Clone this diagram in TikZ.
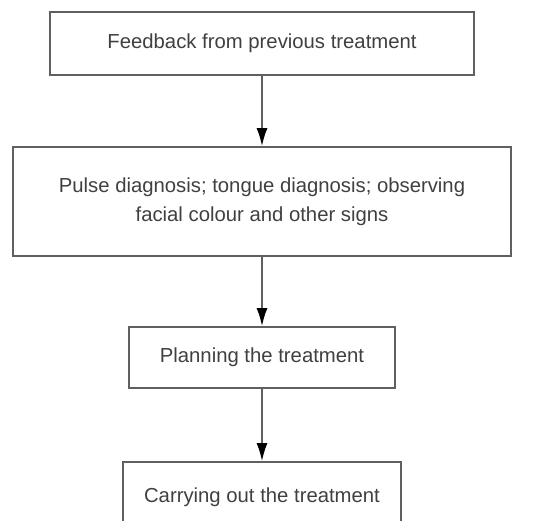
\documentclass[tikz,border=0pt]{standalone}
\usepackage{fontspec}
\setmainfont{Liberation Sans}
\usetikzlibrary{arrows.meta}
\definecolor{edge}{HTML}{606060}
\definecolor{txt}{HTML}{404040}
\tikzset{
  stepbox/.style={draw=edge, line width=1.7pt, rectangle, inner sep=0pt, align=center,
    text=txt, font=\fontsize{20.3pt}{29pt}\selectfont},
  flow/.style={draw=edge, line width=1.7pt, -{Latex[length=18pt,width=11pt,fill=black,color=black]}}
}
\begin{document}
\begin{tikzpicture}[x=1pt,y=-1pt]
\useasboundingbox (0,0) rectangle (544,521);
\clip (0,0) rectangle (544,521);
\node[stepbox, minimum width=424pt, minimum height=63pt] (b1) at (262,43.5) {Feedback from previous treatment};
\node[stepbox, minimum width=498pt, minimum height=109pt] (b2) at (262,201.5) {Pulse diagnosis; tongue diagnosis; observing\\facial colour and other signs};
\node[stepbox, minimum width=266pt, minimum height=61pt] (b3) at (262,357.5) {Planning the treatment};
\node[stepbox, minimum width=278pt, minimum height=64pt] (b4) at (262,494) {};
\node[text=txt, font=\fontsize{20.3pt}{29pt}\selectfont, inner sep=0pt] (t4) at (262,497) {Carrying out the treatment};
\draw[flow] (b1.south) -- (b2.north);
\draw[flow] (b2.south) -- (b3.north);
\draw[flow] (b3.south) -- (b4.north);
\end{tikzpicture}
\end{document}
